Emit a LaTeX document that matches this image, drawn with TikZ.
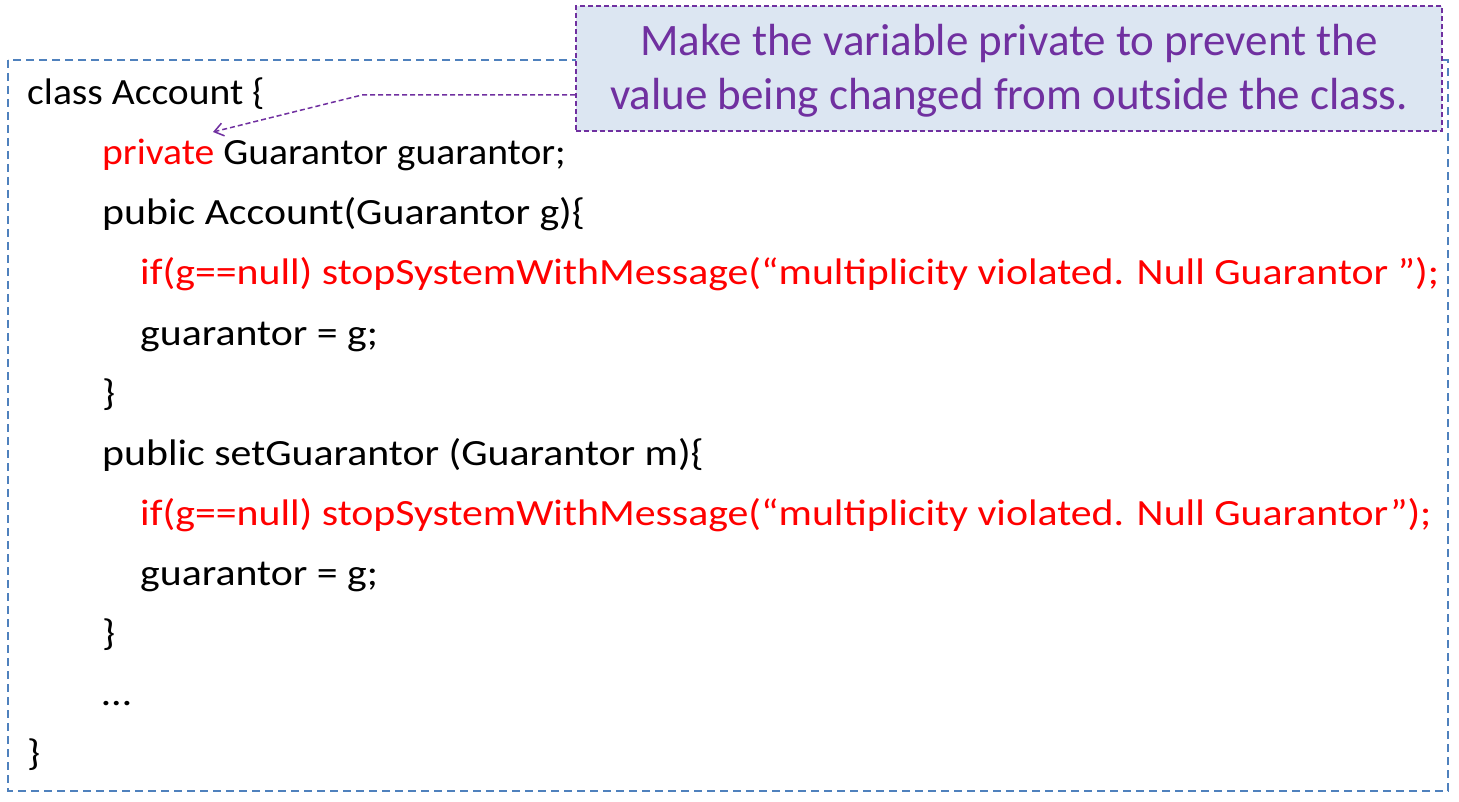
\documentclass[tikz,border=0pt]{standalone}
\usepackage{fontspec}
\setmainfont{Carlito}
\newfontfamily\codeA[FakeStretch=1.07]{Carlito}
\newfontfamily\codeB[FakeStretch=1.13]{Carlito}
\usetikzlibrary{arrows.meta}
\definecolor{boxblue}{HTML}{4F81BD}
\definecolor{calloutfill}{HTML}{DCE6F2}
\definecolor{callpurple}{HTML}{7030A0}
\definecolor{codered}{HTML}{FF0000}
\begin{document}
\begin{tikzpicture}[x=1pt,y=-1pt,
  code/.style={anchor=base west,inner sep=0pt,font=\codeA\fontsize{37}{45}\selectfont,text=black},
  codewide/.style={code,font=\codeB\fontsize{37}{45}\selectfont},
  callout/.style={draw=callpurple,line width=1.8pt,dash pattern=on 5pt off 3pt,fill=calloutfill},
  notetext/.style={anchor=base,inner sep=0pt,text=callpurple,font=\fontsize{45}{54}\selectfont},
  outerbox/.style={draw=boxblue,line width=1.6pt,dash pattern=on 8pt off 5pt},
  pointer/.style={draw=callpurple,line width=1.5pt,dash pattern=on 5pt off 3pt,-{Straight Barb[length=9pt,width=13pt]}}]
\useasboundingbox (0,0) rectangle (1459,802);
\draw[outerbox] (8,60) rectangle (1448,791);
\node[code] (l1) at (27,105) {class Account \{};
\node[code] (l2) at (102,165) {\textcolor{codered}{private} Guarantor guarantor;};
\node[codewide] (l3) at (102,225) {pubic Account(Guarantor g)\{};
\node[codewide,text=codered] (l4) at (140,285) {if(g==null) stopSystemWithMessage(“multiplicity violated. Null Guarantor ”);};
\node[codewide] (l5) at (140,345) {guarantor = g;};
\node[codewide] (l6) at (102,405) {\}};
\node[codewide] (l7) at (102,465) {public setGuarantor (Guarantor m)\{};
\node[codewide,text=codered] (l8) at (140,525) {if(g==null) stopSystemWithMessage(“multiplicity violated. Null Guarantor”);};
\node[codewide] (l9) at (140,585) {guarantor = g;};
\node[codewide] (l10) at (102,645) {\}};
\node[codewide] (l11) at (102,705) {…};
\node[codewide] (l12) at (27,765) {\}};
\node[callout,minimum width=866pt,minimum height=125pt,anchor=north west,inner sep=0pt] (note) at (575,5) {};
\node[notetext] (n1) at (1009,56) {Make the variable private to prevent the};
\node[notetext] (n2) at (1009,110) {value being changed from outside the class.};
\coordinate (bend) at (362,95);
\coordinate (tip) at (213,132);
\draw[pointer] (note.west |- bend) -- (bend) -- (tip);
\end{tikzpicture}
\end{document}
